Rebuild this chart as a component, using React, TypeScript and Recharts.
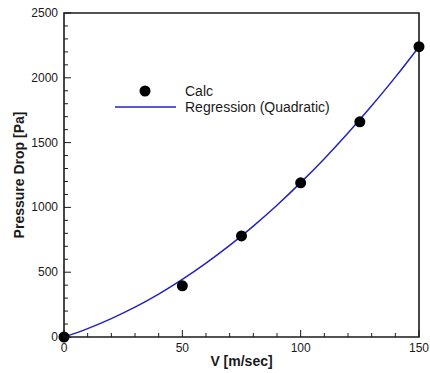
import React from "react";
import {
  ComposedChart,
  Line,
  Scatter,
  XAxis,
  YAxis,
  ReferenceArea,
} from "recharts";

// calculated points
const calcV = [0, 50, 75, 100, 125, 150];
const calcDp = [0, 395, 780, 1190, 1660, 2240];

// regression curve, every 10 m/s
const fitV = [0, 10, 20, 30, 40, 50, 60, 70, 80, 90, 100, 110, 120, 130, 140, 150];
const fitDp = [0, 65, 142, 230, 331, 444, 570, 707, 856, 1017, 1191, 1376, 1574, 1784, 2005, 2240];

const xTicks = [0, 10, 20, 30, 40, 50, 60, 70, 80, 90, 100, 110, 120, 130, 140, 150];
const yTicks = [
  0, 100, 200, 300, 400, 500, 600, 700, 800, 900, 1000, 1100, 1200, 1300, 1400,
  1500, 1600, 1700, 1800, 1900, 2000, 2100, 2200, 2300, 2400, 2500,
];

const FONT = "'Liberation Sans', Arial, sans-serif";
const BLUE = "#2323c0";
const INK = "#1a1a1a";

const calcData = calcV.map((v, i) => ({ v, dp: calcDp[i] }));
const fitData = fitV.map((v, i) => ({ v, dp: fitDp[i] }));

// ticks drawn pointing into the plot, labels only on major ones
function YTick(props: any) {
  const { y, payload } = props;
  const major = payload.value % 500 === 0;
  const axisX = 64;
  return (
    <g>
      <line x1={axisX} x2={axisX + (major ? 7 : 4)} y1={y} y2={y} stroke={INK} strokeWidth={1} />
      {major && (
        <text x={axisX - 6} y={y} dy={4} textAnchor="end" fontSize={12} fontFamily={FONT} fill={INK}>
          {payload.value}
        </text>
      )}
    </g>
  );
}

function XTick(props: any) {
  const { x, payload } = props;
  const major = payload.value % 50 === 0;
  const axisY = 337;
  return (
    <g>
      <line x1={x} x2={x} y1={axisY} y2={axisY - (major ? 7 : 4)} stroke={INK} strokeWidth={1} />
      {major && (
        <text x={x} y={axisY + 15} textAnchor="middle" fontSize={12} fontFamily={FONT} fill={INK}>
          {payload.value}
        </text>
      )}
    </g>
  );
}

function Dot(props: any) {
  return <circle cx={props.cx} cy={props.cy} r={5.5} fill="#000" />;
}

export default function App() {
  return (
    <div style={{ position: "absolute", left: 0, top: 0, width: 430, height: 373, background: "#fff" }}>
      <ComposedChart
        width={430}
        height={373}
        margin={{ top: 13, right: 11, bottom: 0, left: 0 }}
      >
        <XAxis
          dataKey="v"
          type="number"
          domain={[0, 150]}
          ticks={xTicks}
          interval={0}
          tickLine={false}
          axisLine={false}
          tick={<XTick />}
          height={36}
          label={{
            value: "V [m/sec]",
            position: "insideBottom",
            offset: 7,
            style: { fontFamily: FONT, fontSize: 14, fontWeight: "bold", fill: INK },
          }}
        />
        <YAxis
          dataKey="dp"
          type="number"
          domain={[0, 2500]}
          ticks={yTicks}
          interval={0}
          tickLine={false}
          axisLine={false}
          tick={<YTick />}
          width={64}
          label={{
            value: "Pressure Drop [Pa]",
            angle: -90,
            position: "insideLeft",
            offset: 19,
            style: { fontFamily: FONT, fontSize: 14, fontWeight: "bold", fill: INK, textAnchor: "middle" },
          }}
        />
        <ReferenceArea
          x1={0}
          x2={150}
          y1={0}
          y2={2500}
          fill="none"
          stroke={INK}
          strokeWidth={1.6}
          ifOverflow="visible"
        />
        <Line
          data={fitData}
          dataKey="dp"
          type="monotone"
          stroke={BLUE}
          strokeWidth={1.5}
          dot={false}
          isAnimationActive={false}
        />
        <Scatter data={calcData} dataKey="dp" shape={<Dot />} isAnimationActive={false} />
      </ComposedChart>
      <div style={{ position: "absolute", left: 0, top: 0, width: 430, height: 373, pointerEvents: "none" }}>
        <svg width={430} height={373} style={{ position: "absolute", left: 0, top: 0 }}>
          <circle cx={145} cy={91} r={5.5} fill="#000" />
          <line x1={115} x2={176} y1={107} y2={107} stroke={BLUE} strokeWidth={1.5} />
          <text x={185} y={96} fontSize={14} fontFamily={FONT} fill={INK}>Calc</text>
          <text x={185} y={112} fontSize={14} fontFamily={FONT} fill={INK}>Regression (Quadratic)</text>
        </svg>
      </div>
    </div>
  );
}
